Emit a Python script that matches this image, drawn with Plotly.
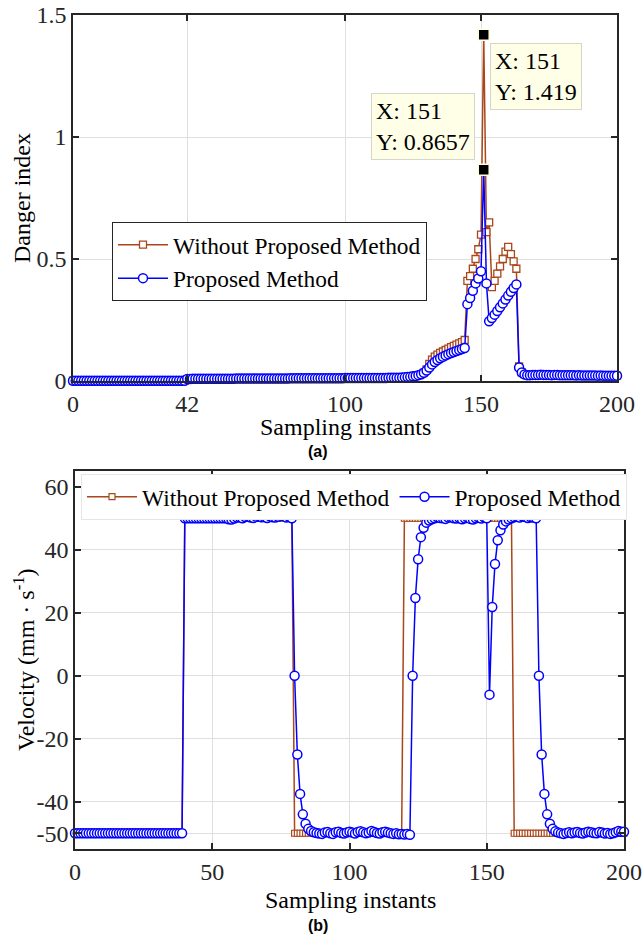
import plotly.graph_objects as go

W, H = 643, 940

# ---------------------------------------------------------------- data
samples = list(range(201))

danger_without = [
    0.001, 0.001, 0.001, 0.001, 0.001, 0.001, 0.001, 0.001, 0.001, 0.001,
    0.001, 0.001, 0.001, 0.001, 0.001, 0.001, 0.001, 0.001, 0.001, 0.001,
    0.001, 0.001, 0.001, 0.001, 0.001, 0.001, 0.001, 0.001, 0.001, 0.001,
    0.001, 0.001, 0.001, 0.001, 0.001, 0.001, 0.001, 0.001, 0.001, 0.001,
    0.001, 0.001, 0.008, 0.008, 0.009, 0.009, 0.009, 0.009, 0.009, 0.009,
    0.009, 0.009, 0.009, 0.009, 0.009, 0.009, 0.009, 0.009, 0.009, 0.009,
    0.010, 0.010, 0.010, 0.010, 0.010, 0.010, 0.010, 0.010, 0.010, 0.010,
    0.010, 0.010, 0.010, 0.010, 0.010, 0.010, 0.010, 0.010, 0.010, 0.010,
    0.011, 0.011, 0.011, 0.011, 0.011, 0.011, 0.011, 0.011, 0.011, 0.011,
    0.011, 0.011, 0.011, 0.011, 0.011, 0.011, 0.011, 0.011, 0.011, 0.011,
    0.012, 0.012, 0.012, 0.012, 0.012, 0.012, 0.012, 0.012, 0.012, 0.012,
    0.012, 0.012, 0.012, 0.012, 0.012, 0.012, 0.013, 0.013, 0.013, 0.013,
    0.013, 0.014, 0.015, 0.016, 0.017, 0.019, 0.021, 0.024, 0.028, 0.034,
    0.048, 0.070, 0.088, 0.100, 0.108, 0.115, 0.121, 0.127, 0.133, 0.139,
    0.144, 0.149, 0.154, 0.159, 0.168, 0.410, 0.430, 0.460, 0.500, 0.540,
    0.600, 1.419, 0.610, 0.650, 0.385, 0.410, 0.440, 0.470, 0.500, 0.530,
    0.550, 0.520, 0.490, 0.460, 0.060, 0.035, 0.027, 0.024, 0.024, 0.025,
    0.025, 0.025, 0.026, 0.025, 0.025, 0.025, 0.024, 0.025, 0.025, 0.024,
    0.024, 0.024, 0.024, 0.024, 0.024, 0.023, 0.024, 0.023, 0.023, 0.023,
    0.023, 0.023, 0.023, 0.022, 0.023, 0.022, 0.022, 0.022, 0.022, 0.022,
    0.022,
]

danger_proposed = [
    0.001, 0.001, 0.001, 0.001, 0.001, 0.001, 0.001, 0.001, 0.001, 0.001,
    0.001, 0.001, 0.001, 0.001, 0.001, 0.001, 0.001, 0.001, 0.001, 0.001,
    0.001, 0.001, 0.001, 0.001, 0.001, 0.001, 0.001, 0.001, 0.001, 0.001,
    0.001, 0.001, 0.001, 0.001, 0.001, 0.001, 0.001, 0.001, 0.001, 0.001,
    0.001, 0.001, 0.008, 0.008, 0.009, 0.009, 0.009, 0.009, 0.009, 0.009,
    0.009, 0.009, 0.009, 0.009, 0.009, 0.009, 0.009, 0.009, 0.009, 0.009,
    0.010, 0.010, 0.010, 0.010, 0.010, 0.010, 0.010, 0.010, 0.010, 0.010,
    0.010, 0.010, 0.010, 0.010, 0.010, 0.010, 0.010, 0.010, 0.010, 0.010,
    0.011, 0.011, 0.011, 0.011, 0.011, 0.011, 0.011, 0.011, 0.011, 0.011,
    0.011, 0.011, 0.011, 0.011, 0.011, 0.011, 0.011, 0.011, 0.011, 0.011,
    0.012, 0.012, 0.012, 0.012, 0.012, 0.012, 0.012, 0.012, 0.012, 0.012,
    0.012, 0.012, 0.012, 0.012, 0.012, 0.012, 0.013, 0.013, 0.013, 0.013,
    0.013, 0.014, 0.015, 0.016, 0.017, 0.019, 0.021, 0.024, 0.028, 0.034,
    0.043, 0.055, 0.068, 0.078, 0.086, 0.093, 0.099, 0.105, 0.110, 0.115,
    0.119, 0.123, 0.127, 0.131, 0.135, 0.315, 0.340, 0.370, 0.400, 0.420,
    0.450, 0.8657, 0.400, 0.245, 0.258, 0.272, 0.287, 0.302, 0.318, 0.334,
    0.350, 0.366, 0.381, 0.396, 0.055, 0.035, 0.027, 0.024, 0.024, 0.025,
    0.025, 0.025, 0.026, 0.025, 0.025, 0.025, 0.024, 0.025, 0.025, 0.024,
    0.024, 0.024, 0.024, 0.024, 0.024, 0.023, 0.024, 0.023, 0.023, 0.023,
    0.023, 0.023, 0.023, 0.022, 0.023, 0.022, 0.022, 0.022, 0.022, 0.022,
    0.022,
]

velocity_without = [
    -50, -50, -50, -50, -50, -50, -50, -50, -50, -50,
    -50, -50, -50, -50, -50, -50, -50, -50, -50, -50,
    -50, -50, -50, -50, -50, -50, -50, -50, -50, -50,
    -50, -50, -50, -50, -50, -50, -50, -50, -50, -50,
    50, 50, 50, 50, 50, 50, 50, 50, 50, 50,
    50, 50, 50, 50, 50, 50, 50, 50, 50, 50,
    50, 50, 50, 50, 50, 50, 50, 50, 50, 50,
    50, 50, 50, 50, 50, 50, 50, 50, 50, 50,
    -50, -50, -50, -50, -50, -50, -50, -50, -50, -50,
    -50, -50, -50, -50, -50, -50, -50, -50, -50, -50,
    -50, -50, -50, -50, -50, -50, -50, -50, -50, -50,
    -50, -50, -50, -50, -50, -50, -50, -50, -50, -50,
    50, 50, 50, 50, 50, 50, 50, 50, 50, 50,
    50, 50, 50, 50, 50, 50, 50, 50, 50, 50,
    50, 50, 50, 50, 50, 50, 50, 50, 50, 50,
    50, 50, 50, 50, 50, 50, 50, 50, 50, 50,
    -50, -50, -50, -50, -50, -50, -50, -50, -50, -50,
    -50, -50, -50, -50, -50, -50, -50, -50, -50, -50,
    -50, -50, -50, -50, -50, -50, -50, -50, -50, -50,
    -50, -50, -50, -50, -50, -50, -50, -50, -50, -50,
    -50,
]

velocity_proposed = [
    -50, -50, -50, -50, -50, -50, -50, -50, -50, -50,
    -50, -50, -50, -50, -50, -50, -50, -50, -50, -50,
    -50, -50, -50, -50, -50, -50, -50, -50, -50, -50,
    -50, -50, -50, -50, -50, -50, -50, -50, -50, -50,
    50, 50, 50, 50, 50, 50, 50, 50, 50, 50,
    50, 50, 50, 50, 50, 50, 49.7, 49.6, 49.9, 50.2,
    50.3, 50.0, 50.4, 50.6, 50.2, 50.1, 50.5, 50.7, 50.3, 50.4,
    50.1, 50.6, 50.3, 50.2, 50.5, 50.9, 50.7, 50.2, 50.5, 50.0,
    0.0, -25.0, -37.5, -44.0, -47.0, -48.6, -49.3, -49.7, -49.9, -50.1,
    -50.2, -49.8, -49.6, -50.0, -50.2, -49.7, -49.5, -49.9, -50.1, -49.8,
    -49.5, -49.8, -50.1, -49.6, -49.4, -49.7, -50.0, -49.8, -49.3, -49.6,
    -49.9, -50.1, -49.7, -49.5, -49.8, -50.0, -50.2, -50.0, -50.3, -50.2,
    -50.4, -50.2, -50.5, 0.0, 24.7, 37.0, 44.0, 47.0, 48.6, 49.3,
    49.7, 50.0, 50.3, 50.1, 50.0, 49.8, 50.2, 50.3, 50.0, 49.9,
    50.1, 49.7, 50.0, 50.2, 49.8, 49.6, 50.0, 50.2, 49.9, 50.3,
    50.0, -6.0, 21.8, 35.5, 43.0, 46.2, 48.0, 49.0, 49.6, 50.0,
    50.3, 50.5, 50.2, 50.6, 50.4, 50.1, 50.3, 50.2, 50.0, 0.0,
    -25.0, -37.5, -44.0, -47.0, -48.6, -49.4, -49.8, -50.0, -50.2, -49.9,
    -49.7, -50.0, -49.8, -49.6, -49.9, -50.1, -49.8, -49.5, -49.7, -49.9,
    -50.0, -49.6, -49.8, -50.1, -49.9, -50.2, -50.0, -49.7, -49.3, -49.5,
    -49.5,
]

series_names = ["Without Proposed Method", "Proposed Method"]
danger_ticks = [0, 0.5, 1, 1.5]
danger_ticktext = ["0", "0.5", "1", "1.5"]
top_xticks = [0, 42, 100, 150, 200]
velocity_ticks = [-50, -40, -20, 0, 20, 40, 60]
velocity_ticktext = ["-50", "-40", "-20", "0", "20", "40", "60"]
bottom_xticks = [0, 50, 100, 150, 200]
TIP_INDEX = 151

# ---------------------------------------------------------------- styling
RED = "#A9471A"
BLUE = "#0000FF"
AXIS = "#262626"
GRID = "#DFDFDF"
SERIF = "Liberation Serif, Times New Roman, serif"
FS = 24
LEG_FS = 23.4


def fx(px):
    return px / W


def fy(py):
    return 1 - py / H


fig = go.Figure()

# ---- (a) danger index
fig.add_trace(go.Scatter(
    x=samples, y=danger_without, name=series_names[0], mode="lines+markers",
    line=dict(color=RED, width=1.5),
    marker=dict(symbol="square", size=7, color="white", line=dict(color=RED, width=1.3)),
    cliponaxis=False, xaxis="x", yaxis="y", legend="legend",
))
fig.add_trace(go.Scatter(
    x=samples, y=danger_proposed, name=series_names[1], mode="lines+markers",
    line=dict(color=BLUE, width=1.5),
    marker=dict(symbol="circle", size=9, color="white", line=dict(color=BLUE, width=1.5)),
    cliponaxis=False, xaxis="x", yaxis="y", legend="legend",
))
# data-tip markers
tip_vals = [danger_without[TIP_INDEX], danger_proposed[TIP_INDEX]]
fig.add_trace(go.Scatter(
    x=[samples[TIP_INDEX]] * 2, y=tip_vals, mode="markers", showlegend=False,
    marker=dict(symbol="square", size=11, color="black", line=dict(color="#FFFFE0", width=1.5)),
    cliponaxis=False, xaxis="x", yaxis="y",
))

# ---- (b) velocity
fig.add_trace(go.Scatter(
    x=samples, y=velocity_without, name=series_names[0], mode="lines+markers",
    line=dict(color=RED, width=1.5),
    marker=dict(symbol="square", size=6, color="white", line=dict(color=RED, width=1.2)),
    cliponaxis=False, xaxis="x2", yaxis="y2", legend="legend2",
))
fig.add_trace(go.Scatter(
    x=samples, y=velocity_proposed, name=series_names[1], mode="lines+markers",
    line=dict(color=BLUE, width=1.5),
    marker=dict(symbol="circle", size=9, color="white", line=dict(color=BLUE, width=1.5)),
    cliponaxis=False, xaxis="x2", yaxis="y2", legend="legend2",
))

axis_common = dict(
    showline=True, linecolor=AXIS, linewidth=1.5, mirror="allticks",
    ticks="inside", ticklen=6, tickwidth=1.5, tickcolor=AXIS,
    showgrid=True, gridcolor=GRID, gridwidth=1, zeroline=False,
    ticklabeloverflow="allow",
    tickfont=dict(family=SERIF, size=FS, color=AXIS),
)

fig.update_layout(
    width=W, height=H,
    margin=dict(l=0, r=0, t=0, b=0, pad=0, autoexpand=False),
    paper_bgcolor="white", plot_bgcolor="white",
    font=dict(family=SERIF, size=FS, color="black"),
    xaxis=dict(domain=[fx(73), fx(617)], range=[0, 200], tickvals=top_xticks,
               anchor="y", **axis_common),
    yaxis=dict(domain=[fy(381), fy(15)], range=[0, 1.5], tickvals=danger_ticks,
               ticktext=danger_ticktext, anchor="x", **axis_common),
    xaxis2=dict(domain=[fx(75), fx(624)], range=[0, 200], tickvals=bottom_xticks,
                anchor="y2", **axis_common),
    yaxis2=dict(domain=[fy(849), fy(471)], range=[-55, 65], tickvals=velocity_ticks,
                ticktext=velocity_ticktext, anchor="x2", **axis_common),
    legend=dict(x=fx(112), y=fy(222), xanchor="left", yanchor="top",
                bgcolor="white", bordercolor=AXIS, borderwidth=1,
                font=dict(family=SERIF, size=LEG_FS, color="black"),
                tracegroupgap=0, itemwidth=50),
    legend2=dict(x=fx(81), y=fy(474), xanchor="left", yanchor="top",
                 orientation="h", bgcolor="white", bordercolor="#E6E6E6", borderwidth=1,
                 font=dict(family=SERIF, size=LEG_FS, color="black"), itemwidth=50),
    showlegend=True,
)

annotations = [
    # axis titles
    dict(text="Danger index", x=fx(22), y=fy(198), textangle=-90),
    dict(text="Sampling instants", x=fx(345), y=fy(427)),
    dict(text="Velocity (mm · s<sup>-1</sup>)", x=fx(24), y=fy(660), textangle=-90),
    dict(text="Sampling instants", x=fx(350), y=fy(900)),
    dict(text="<b>(a)</b>", x=fx(318), y=fy(452),
         font=dict(family="Liberation Sans, Arial, sans-serif", size=16, color="black")),
    dict(text="<b>(b)</b>", x=fx(318), y=fy(925),
         font=dict(family="Liberation Sans, Arial, sans-serif", size=16, color="black")),
]
for a in annotations:
    a.update(xref="paper", yref="paper", showarrow=False, xanchor="center", yanchor="middle")
    a.setdefault("font", dict(family=SERIF, size=FS, color="black"))

# data-tip labels
tips = [
    dict(x=153.3, y=1.385, text=f"X: {samples[TIP_INDEX]}<br>Y: {danger_without[TIP_INDEX]:g}"),
    dict(x=109.6, y=1.18, text=f"X: {samples[TIP_INDEX]}<br>Y: {danger_proposed[TIP_INDEX]:g}"),
]
for t in tips:
    t.update(xref="x", yref="y", showarrow=False, xanchor="left", yanchor="top",
             align="left", bgcolor="#FFFFE8", bordercolor="#D6D6C8", borderwidth=1,
             borderpad=4, font=dict(family=SERIF, size=FS, color="black"))
    annotations.append(t)

fig.update_layout(annotations=annotations)

fig.write_html("out.html")
